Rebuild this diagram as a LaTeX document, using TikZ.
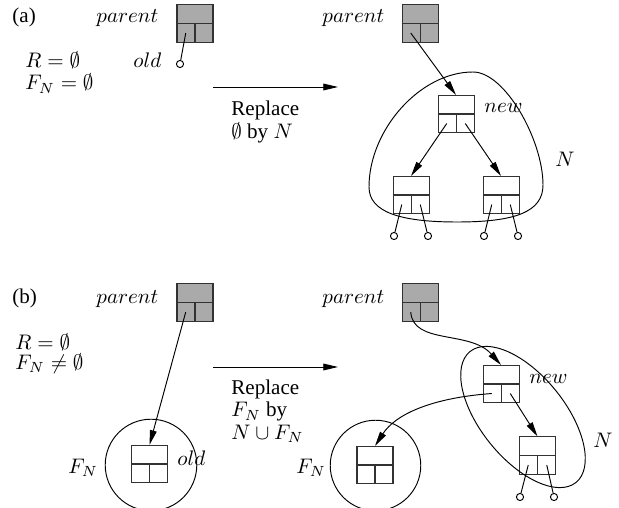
\documentclass[tikz,border=0pt]{standalone}
\usepackage{fontspec}
\setmainfont{Liberation Serif}
\usetikzlibrary{arrows.meta,calc,shapes.geometric}
\definecolor{boxgray}{RGB}{170,170,170}
\definecolor{edge}{RGB}{50,50,50}
\tikzset{rec/.style={draw=edge, line width=0.48pt, minimum width=17.1pt, minimum height=17.6pt, inner sep=0pt}}
\tikzset{grayrec/.style={rec, fill=boxgray}}
\tikzset{leaf/.style={circle, draw, line width=0.45pt, minimum size=3.4pt, inner sep=0pt}}
\tikzset{lbl/.style={anchor=base west, inner sep=0pt}}
\tikzset{txt/.style={anchor=north west, inner sep=0pt, align=left, font=\fontsize{10}{10.6}\selectfont}}
\tikzset{wire/.style={line width=0.45pt}}
\tikzset{ptr/.style={wire, -{Triangle[length=7pt,width=3.2pt]}}}
\newcommand{\recnode}[3]{%
  \node [#1] (#2) at (#3) {};
  \draw [draw=edge, line width=0.48pt] (#2.west) -- (#2.east) (#2.center) -- (#2.south);
  \coordinate (#2-l) at ($(#2.south west)!0.5!(#2.center)$);
  \coordinate (#2-r) at ($(#2.south east)!0.5!(#2.center)$);
}

\begin{document}
\begin{tikzpicture}[x=0.475pt, y=-0.475pt, font=\fontsize{10}{12}\selectfont]
\useasboundingbox (0,0) rectangle (619,508);

% (a) before
\node [lbl] (tagA) at (12,23) {(a)};
\node [lbl] (parA) at (96,23) {$parent$};
\recnode{grayrec}{pa}{195,23.5}
\node [lbl] (oldA) at (133,68) {$old$};
\node [leaf] (lfa) at (180,64) {};
\draw [wire] (pa-l) -- (lfa);
\node [lbl] (condA1) at (25,68) {$R=\emptyset$};
\node [lbl] (condA2) at (25,90) {$F_N=\emptyset$};

% (a) step
\coordinate (sa) at (213,87);
\coordinate (ta) at (338,87);
\draw [ptr] (sa) -- (ta);
\node [txt] (repA) at (231,100.8) {Replace\\$\emptyset$ by $N$};

% (a) after
\node [lbl] (parA2) at (322,23) {$parent$};
\recnode{grayrec}{pa2}{420,23.5}
\recnode{rec}{na}{456,114}
\recnode{rec}{ca1}{411,195}
\recnode{rec}{ca2}{501,195}
\node [lbl] (newA) at (484,113) {$new$};
\draw [ptr] (pa2-l) -- (na.north);
\draw [ptr] (na-l) -- (ca1.north);
\draw [ptr] (na-r) -- (ca2.north);
\node [leaf] (la1) at (394,236) {};
\node [leaf] (la2) at (428,236) {};
\node [leaf] (la3) at (484,236) {};
\node [leaf] (la4) at (518,236) {};
\draw [wire] (ca1-l) -- (la1) (ca1-r) -- (la2) (ca2-l) -- (la3) (ca2-r) -- (la4);
\draw [wire] (473,72) .. controls (505,72) and (543,140) .. (543,185)
  .. controls (543,212) and (515,222) .. (457,222)
  .. controls (400,222) and (369,212) .. (369,187)
  .. controls (369,130) and (420,72) .. (473,72) -- cycle;
\node [lbl] (setA) at (555,167) {$N$};

% (b) before
\node [lbl] (tagB) at (12,303) {(b)};
\node [lbl] (parB) at (96,303) {$parent$};
\recnode{grayrec}{pb}{195,302.5}
\node [lbl] (condB1) at (15,349) {$R=\emptyset$};
\node [lbl] (condB2) at (15,369) {$F_N\neq\emptyset$};
\recnode{rec}{ob}{149.5,464}
\node [circle, draw, wire, minimum size=43.5pt] (fa) at (151,465) {};
\node [lbl] (oldB) at (177,465) {$old$};
\node [lbl] (fnB) at (68,473) {$F_N$};
\draw [ptr] (pb-l) -- (ob.north);

% (b) step
\coordinate (sb) at (213,367);
\coordinate (tb) at (338,367);
\draw [ptr] (sb) -- (tb);
\node [txt] (repB) at (231,379.6) {Replace\\$F_N$ by\\$N\cup F_N$};

% (b) after
\node [lbl] (parB2) at (322,303) {$parent$};
\recnode{grayrec}{pb2}{420,302.5}
\recnode{rec}{nb}{501,384}
\recnode{rec}{fb}{375,465}
\recnode{rec}{cb}{537.5,455.5}
\node [circle, draw, wire, minimum size=43pt] (fc) at (375.5,465.5) {};
\node [ellipse, draw, wire, minimum width=80pt, minimum height=40pt, rotate=-51] (nset) at (523,417) {};
\node [lbl] (newB) at (529,383) {$new$};
\node [lbl] (fnB2) at (296,473) {$F_N$};
\node [lbl] (setB) at (593,447) {$N$};
\draw [ptr] (pb2-l) .. controls (413,345) and (470,330) .. (nb.north);
\draw [ptr] (nb-l) .. controls (430,398) and (395,415) .. (fb.north);
\draw [ptr] (nb-r) -- (cb.north);
\node [leaf] (lb1) at (520,497) {};
\node [leaf] (lb2) at (554,497) {};
\draw [wire] (cb-l) -- (lb1) (cb-r) -- (lb2);
\end{tikzpicture}
\end{document}
